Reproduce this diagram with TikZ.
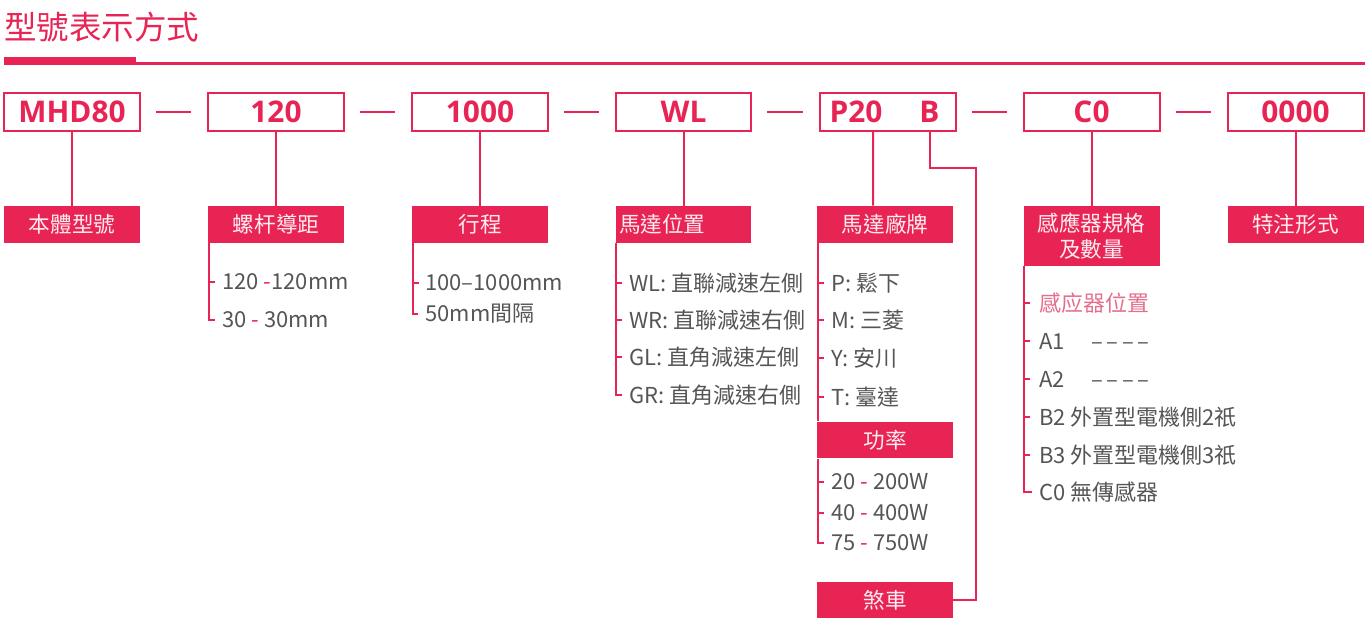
\documentclass[tikz,border=0pt]{standalone}
\usepackage{fontspec}
\setmainfont{Noto Sans CJK TC}
\newfontfamily\boxfont{Open Sans}
\definecolor{crim}{RGB}{232,36,84}
\definecolor{txtgray}{RGB}{85,85,85}
\definecolor{pinktxt}{RGB}{228,110,140}
\definecolor{boxtxt}{RGB}{255,236,240}
\begin{document}
\begin{tikzpicture}[x=0.02cm,y=-0.02cm,
 conn/.style={draw=crim, line width=0.04cm},
 topbox/.style={draw=crim, line width=0.04cm, minimum width=2.72cm, minimum height=0.76cm, inner sep=0pt, text=crim, font=\boxfont\bfseries\fontsize{17}{20}\selectfont},
 toptext/.style={text=crim, font=\boxfont\bfseries\fontsize{17}{20}\selectfont, inner sep=0pt},
 redbox/.style={fill=crim, text=boxtxt, minimum width=2.72cm, minimum height=0.74cm, inner sep=0pt, font=\fontsize{12.3}{16}\selectfont},
 item/.style={anchor=west, text=txtgray, inner sep=0pt, font=\fontsize{12.5}{15}\selectfont},
]
\useasboundingbox (0,0) rectangle (1372,634);

% header
\node[anchor=west, text=crim, inner sep=0pt, font=\fontsize{18.5}{22}\selectfont] (title) at (4,27) {型號表示方式};
\fill[crim] (4,57) rectangle (136,65);
\fill[crim] (136,62.5) rectangle (1365,65);

% top boxes
\node[topbox] (t1) at (72,112) {MHD80};
\node[topbox] (t2) at (276,112) {120};
\node[topbox] (t3) at (480,112) {1000};
\node[topbox] (t4) at (683.5,112) {WL};
\node[topbox] (t5) at (888,112) {};
\node[toptext] (p20) at (856,112) {P20};
\node[toptext] (bb) at (929.5,112) {B};
\node[topbox] (t6) at (1091.5,112) {C0};
\node[topbox] (t7) at (1295.5,112) {0000};

\draw[conn] ([xshift=0.3cm]t1.east) -- ([xshift=-0.32cm]t2.west);
\draw[conn] ([xshift=0.3cm]t2.east) -- ([xshift=-0.32cm]t3.west);
\draw[conn] ([xshift=0.3cm]t3.east) -- ([xshift=-0.32cm]t4.west);
\draw[conn] ([xshift=0.3cm]t4.east) -- ([xshift=-0.32cm]t5.west);
\draw[conn] ([xshift=0.3cm]t5.east) -- ([xshift=-0.32cm]t6.west);
\draw[conn] ([xshift=0.3cm]t6.east) -- ([xshift=-0.32cm]t7.west);

% label boxes
\node[redbox] (l1) at (72,224.5) {本體型號};
\node[redbox] (l2) at (276,224.5) {螺杆導距};
\node[redbox] (l3) at (480,224.5) {行程};
\node[redbox, text width=2.58cm, align=left, inner xsep=0.07cm] (l4) at (683.5,224.5) {馬達位置};
\node[redbox] (l5) at (885,224.5) {馬達廠牌};
\node[redbox, minimum height=1.2cm, align=center, font=\fontsize{12.3}{14.5}\selectfont] (l6) at (1091.5,236) {感應器規格\\及數量};
\node[redbox] (l7) at (1295.5,224.5) {特注形式};
\node[redbox] (pw) at (885,440) {功率};
\node[redbox] (br) at (885,600) {煞車};

\draw[conn] (t1.south) -- (l1.north);
\draw[conn] (t2.south) -- (l2.north);
\draw[conn] (t3.south) -- (l3.north);
\draw[conn] (t4.south) -- (l4.north);
\draw[conn] ([xshift=-0.3cm]t5.south) -- ([xshift=-0.24cm]l5.north);
\draw[conn] (t6.south) -- (l6.north);
\draw[conn] (t7.south) -- (l7.north);
\coordinate (bk) at (976,168);
\draw[conn] (bb |- t5.south) |- (bk) |- (br.east);

% list 2
\node[item] (a1) at (222,282) {120 \textcolor{crim}{-}120mm};
\node[item] (a2) at (222,320) {30 \textcolor{crim}{-} 30mm};
\coordinate (v2) at ([xshift=0.02cm]l2.south west);
\draw[conn] (v2) |- ([xshift=-0.14cm]a2.west);
\draw[conn] (v2 |- a1.west) -- ++(6,0);

% list 3
\node[item] (b1) at (425,283) {100–1000mm};
\node[item] (b2) at (425,314) {50mm間隔};
\coordinate (v3) at ([xshift=0.02cm]l3.south west);
\draw[conn] (v3) |- ([xshift=-0.14cm]b2.west);
\draw[conn] (v3 |- b1.west) -- ++(6,0);

% list 4
\node[item] (c1) at (629,283) {WL: 直聯減速左側};
\node[item] (c2) at (629,320) {WR: 直聯減速右側};
\node[item] (c3) at (629,357) {GL: 直角減速左側};
\node[item] (c4) at (629,395) {GR: 直角減速右側};
\coordinate (v4) at ([xshift=0.02cm]l4.south west);
\draw[conn] (v4) |- ([xshift=-0.14cm]c4.west);
\draw[conn] (v4 |- c1.west) -- ++(6,0);
\draw[conn] (v4 |- c2.west) -- ++(6,0);
\draw[conn] (v4 |- c3.west) -- ++(6,0);

% list 5
\node[item] (d1) at (831,283) {P: 鬆下};
\node[item] (d2) at (831,320) {M: 三菱};
\node[item] (d3) at (831,358) {Y: 安川};
\node[item] (d4) at (831,397) {T: 臺達};
\coordinate (v5) at ([xshift=0.02cm]l5.south west);
\draw[conn] (v5) -- (v5 |- pw.north);
\draw[conn] (v5 |- d1.west) -- ++(6,0);
\draw[conn] (v5 |- d2.west) -- ++(6,0);
\draw[conn] (v5 |- d3.west) -- ++(6,0);
\draw[conn] (v5 |- d4.west) -- ++(6,0);

\node[item] (e1) at (831,482) {20 \textcolor{crim}{-} 200W};
\node[item] (e2) at (831,513) {40 \textcolor{crim}{-} 400W};
\node[item] (e3) at (831,543) {75 \textcolor{crim}{-} 750W};
\coordinate (v5b) at ([xshift=0.02cm]pw.south west);
\draw[conn] (v5b) |- ([xshift=-0.14cm]e3.west);
\draw[conn] (v5b |- e1.west) -- ++(6,0);
\draw[conn] (v5b |- e2.west) -- ++(6,0);

% list 6
\node[item, text=pinktxt] (f1) at (1039,303) {感应器位置};
\node[item] (f2) at (1039,341) {A1\hspace{1.2em}–\,–\,–\,–};
\node[item] (f3) at (1039,379) {A2\hspace{1.2em}–\,–\,–\,–};
\node[item] (f4) at (1039,417) {B2 外置型電機側2祇};
\node[item] (f5) at (1039,455) {B3 外置型電機側3祇};
\node[item] (f6) at (1039,492) {C0 無傳感器};
\coordinate (v6) at ([xshift=0.02cm]l6.south west);
\draw[conn] (v6) |- ([xshift=-0.14cm]f6.west);
\draw[conn] (v6 |- f1.west) -- ++(6,0);
\draw[conn] (v6 |- f2.west) -- ++(6,0);
\draw[conn] (v6 |- f3.west) -- ++(6,0);
\draw[conn] (v6 |- f4.west) -- ++(6,0);
\draw[conn] (v6 |- f5.west) -- ++(6,0);
\end{tikzpicture}
\end{document}
